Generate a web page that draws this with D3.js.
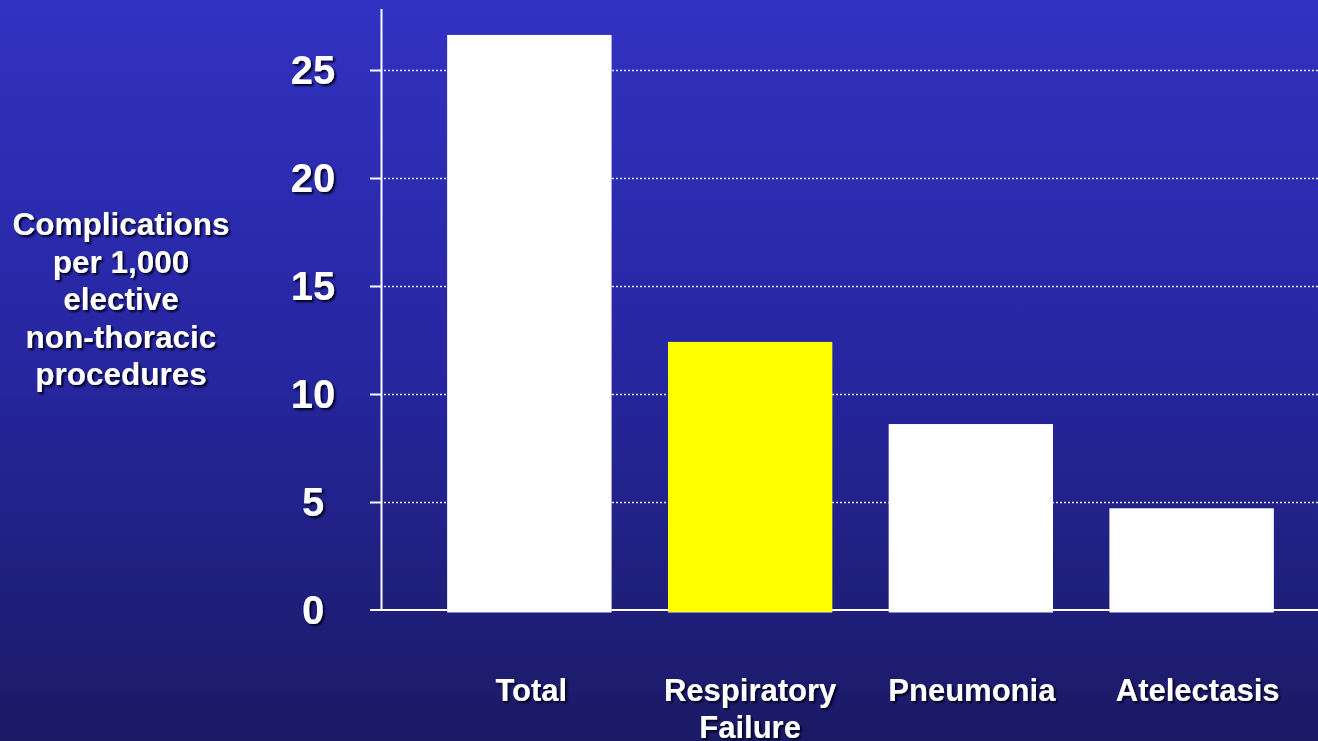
<!DOCTYPE html>
<html>
<head>
<meta charset="utf-8">
<script src="https://cdn.jsdelivr.net/npm/d3@7"></script>
<style>
  html, body { margin: 0; padding: 0; background: #1b1a62; }
  svg { display: block; }
  text { font-family: "Liberation Sans", Arial, sans-serif; font-weight: bold; fill: #ffffff; }
</style>
</head>
<body>
<svg id="chart" width="1318" height="741"></svg>
<script>
// Postoperative pulmonary complications per 1,000 elective non-thoracic procedures
const categories = ["Total", "Respiratory Failure", "Pneumonia", "Atelectasis"];
const values = [26.6, 12.4, 8.6, 4.7];
const barColors = ["#ffffff", "#ffff00", "#ffffff", "#ffffff"];
const yTicks = [0, 5, 10, 15, 20, 25];
const yTitleLines = ["Complications", "per 1,000", "elective", "non-thoracic", "procedures"];
const categoryLines = [["Total"], ["Respiratory", "Failure"], ["Pneumonia"], ["Atelectasis"]];

const W = 1318, H = 741;
const svg = d3.select("#chart");
const defs = svg.append("defs");

// slide background
const grad = defs.append("linearGradient")
  .attr("id", "bg").attr("x1", 0).attr("y1", 0).attr("x2", 0).attr("y2", 1);
grad.append("stop").attr("offset", "0%").attr("stop-color", "#3232c2");
grad.append("stop").attr("offset", "50%").attr("stop-color", "#2626a0");
grad.append("stop").attr("offset", "100%").attr("stop-color", "#1b1a64");
svg.append("rect").attr("width", W).attr("height", H).attr("fill", "url(#bg)");

// dark drop shadow for the lettering
const shadow = defs.append("filter").attr("id", "txtShadow")
  .attr("x", "-10%").attr("y", "-20%").attr("width", "130%").attr("height", "150%");
shadow.append("feDropShadow")
  .attr("dx", 2).attr("dy", 2).attr("stdDeviation", 1.1)
  .attr("flood-color", "#030320").attr("flood-opacity", 1);

const axisX = 381;
const y = d3.scaleLinear().domain([0, 27.8]).range([610, 9]);
const x = d3.scaleBand()
  .domain(categories)
  .range([axisX, 1340])
  .paddingInner(0.256)
  .paddingOuter(0.3);

// dotted gridlines
svg.append("g").selectAll("line")
  .data(yTicks.filter(t => t > 0))
  .join("line")
  .attr("x1", axisX + 3).attr("x2", W)
  .attr("y1", d => Math.round(y(d)) + 0.5).attr("y2", d => Math.round(y(d)) + 0.5)
  .attr("stroke", "#e8e8ff").attr("stroke-width", 1.5)
  .attr("stroke-dasharray", "2,2");

// baseline under the bar feet
svg.append("line")
  .attr("x1", 370).attr("x2", W)
  .attr("y1", y(0)).attr("y2", y(0))
  .attr("stroke", "#ffffff").attr("stroke-width", 2);

// bars, with a faint lower edge
const bars = svg.append("g");
bars.selectAll("rect.edge")
  .data(categories)
  .join("rect")
  .attr("class", "edge")
  .attr("x", d => x(d))
  .attr("y", (d, i) => y(values[i]))
  .attr("width", x.bandwidth())
  .attr("height", (d, i) => y(0) - y(values[i]) + 3)
  .attr("fill", "#8a8ab8");
bars.selectAll("rect.bar")
  .data(categories)
  .join("rect")
  .attr("class", "bar")
  .attr("x", d => x(d))
  .attr("y", (d, i) => y(values[i]))
  .attr("width", x.bandwidth())
  .attr("height", (d, i) => y(0) - y(values[i]) + 2)
  .attr("fill", (d, i) => barColors[i]);

// axis line and ticks
const axisG = svg.append("g").attr("stroke", "#ffffff").attr("stroke-width", 2);
axisG.append("line")
  .attr("x1", axisX + 0.5).attr("x2", axisX + 0.5)
  .attr("y1", y.range()[1]).attr("y2", y(0));
axisG.selectAll("line.tick")
  .data(yTicks.filter(t => t > 0))
  .join("line")
  .attr("class", "tick")
  .attr("x1", 370).attr("x2", axisX)
  .attr("y1", d => Math.round(y(d)) + 0.5).attr("y2", d => Math.round(y(d)) + 0.5);

// y tick labels
svg.append("g").selectAll("text")
  .data(yTicks)
  .join("text")
  .attr("x", 313)
  .attr("y", d => y(d) + 14)
  .attr("text-anchor", "middle")
  .attr("font-size", 40)
  .attr("filter", "url(#txtShadow)")
  .text(d => d);

// y title
svg.append("text")
  .attr("text-anchor", "middle")
  .attr("font-size", 31.5)
  .attr("filter", "url(#txtShadow)")
  .selectAll("tspan")
  .data(yTitleLines)
  .join("tspan")
  .attr("x", 121)
  .attr("y", (d, i) => 235 + i * 37.6)
  .text(d => d);

// category labels
const labelShift = [2, 0, 1, 6];
svg.append("g").selectAll("text")
  .data(categories)
  .join("text")
  .attr("text-anchor", "middle")
  .attr("font-size", 31)
  .attr("filter", "url(#txtShadow)")
  .each(function (d, i) {
    d3.select(this).selectAll("tspan")
      .data(categoryLines[i])
      .join("tspan")
      .attr("x", x(d) + x.bandwidth() / 2 + labelShift[i])
      .attr("y", (t, j) => 701 + j * 37)
      .text(t => t);
  });
</script>
</body>
</html>
